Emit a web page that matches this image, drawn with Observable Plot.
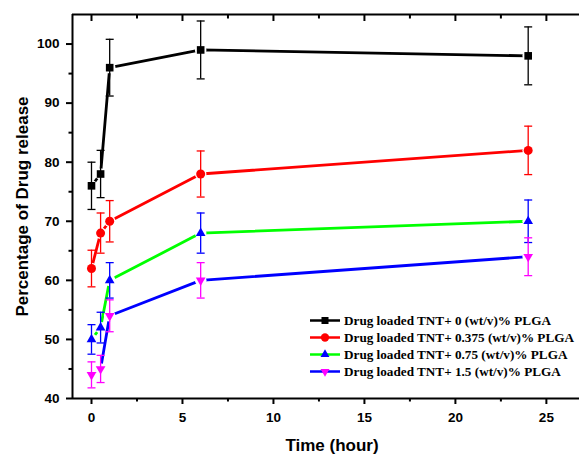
<!DOCTYPE html>
<html><head><meta charset="utf-8">
<script src="https://cdn.jsdelivr.net/npm/d3@7"></script>
<script src="https://cdn.jsdelivr.net/npm/@observablehq/plot@0.6"></script>
<style>
body{margin:0;background:#fff;}
#wrap{position:relative;width:579px;height:454px;overflow:hidden;}
#legend{position:absolute;left:309px;top:312px;font-family:"Liberation Serif","Times New Roman",serif;font-weight:bold;font-size:13.2px;color:#000;}
.row{height:17px;display:flex;align-items:center;white-space:nowrap;}
.row svg{flex:none;}
</style></head><body><div id="wrap"><div id="legend"></div></div>
<script>
// ---- data ----
const time = [0, 0.5, 1, 6, 24];
const seriesNames = [
  "Drug loaded TNT+ 0 (wt/v)% PLGA",
  "Drug loaded TNT+ 0.375 (wt/v)% PLGA",
  "Drug loaded TNT+ 0.75 (wt/v)% PLGA",
  "Drug loaded TNT+ 1.5 (wt/v)% PLGA"
];
const release0 = [76, 78, 96, 99, 98];
const error0 = [4, 4, 4.8, 4.9, 4.9];
const release0375 = [62, 68, 70, 78, 82];
const error0375 = [3.1, 3.4, 3.5, 3.9, 4.1];
const release075 = [50, 52, 60, 68, 70];
const error075 = [2.5, 2.6, 3, 3.4, 3.6];
const release15 = [44, 45, 54, 60, 64];
const error15 = [2.2, 2.3, 2.7, 3, 3.2];
const xTicks = [0, 5, 10, 15, 20, 25];
const xMinor = [2.5, 7.5, 12.5, 17.5, 22.5];
const yTicks = [40, 50, 60, 70, 80, 90, 100];
const yMinor = [45, 55, 65, 75, 85, 95];

// ---- styles ----
const lineColors = ["#000000", "#ff0000", "#00ff00", "#0000ff"];
const markerColors = ["#000000", "#ff0000", "#0000ff", "#ff00ff"];
const sqrt3 = Math.sqrt(3);
const triangleDown = {
  draw(context, size) {
    const y = Math.sqrt(size / (sqrt3 * 3));
    context.moveTo(0, y * 2);
    context.lineTo(-sqrt3 * y, -y);
    context.lineTo(sqrt3 * y, -y);
    context.closePath();
  }
};
const capSymbol = {
  draw(context) { context.moveTo(-4, 0); context.lineTo(4, 0); }
};
const symbols = ["square", "circle", "triangle", triangleDown];
const d3symbols = [d3.symbolSquare, d3.symbolCircle, d3.symbolTriangle, triangleDown];
const radii = [4.3, 4.5, 3.6, 3.6];

const values = [release0, release0375, release075, release15];
const errors = [error0, error0375, error075, error15];
const series = values.map((vals, s) => time.map((t, i) => ({t, v: vals[i], e: errors[s][i], s})));

const xDomain = [-1.044, 26.82];
const yDomain = [40, 105];

const marks = [];
series.forEach((rows, s) => {
  marks.push(Plot.line(rows, {x: "t", y: "v", stroke: lineColors[s], strokeWidth: 2.8}));
  marks.push(Plot.dot(rows, {x: "t", y: "v", r: 5.8, fill: "white", stroke: "none"}));
});
series.forEach((rows, s) => {
  marks.push(Plot.ruleX(rows, {x: "t", y1: d => d.v - d.e, y2: d => d.v + d.e, stroke: markerColors[s], strokeWidth: 1.3}));
  marks.push(Plot.dot(rows, {x: "t", y: d => d.v + d.e, symbol: capSymbol, fill: "none", stroke: markerColors[s], strokeWidth: 1.3}));
  marks.push(Plot.dot(rows, {x: "t", y: d => d.v - d.e, symbol: capSymbol, fill: "none", stroke: markerColors[s], strokeWidth: 1.3}));
  marks.push(Plot.dot(rows, {x: "t", y: "v", symbol: symbols[s], r: radii[s], fill: markerColors[s], stroke: "none"}));
});

const chart = Plot.plot({
  width: 579,
  height: 454,
  marginLeft: 72,
  marginRight: 0,
  marginTop: 14,
  marginBottom: 56,
  style: {fontFamily: "'Liberation Sans', Arial, sans-serif", fontSize: "13.5px", fontWeight: "bold", background: "white", color: "black"},
  x: {domain: xDomain, label: null},
  y: {domain: yDomain, label: null},
  marks: [
    ...marks,
    Plot.ruleY([yDomain[0]], {stroke: "black", strokeWidth: 2}),
    Plot.ruleY([yDomain[1]], {stroke: "black", strokeWidth: 2}),
    Plot.ruleX([xDomain[0]], {stroke: "black", strokeWidth: 2}),
    Plot.axisX(xTicks, {anchor: "bottom", tickSize: 6, tickPadding: 8, strokeWidth: 2, fontSize: 13.5, fontWeight: "bold", label: null}),
    Plot.axisX(xMinor, {anchor: "bottom", tickSize: 3.5, strokeWidth: 2, tickFormat: () => "", label: null}),
    Plot.axisX(xTicks, {anchor: "top", tickSize: -6, strokeWidth: 2, tickFormat: () => "", label: null}),
    Plot.axisX(xMinor, {anchor: "top", tickSize: -3.5, strokeWidth: 2, tickFormat: () => "", label: null}),
    Plot.axisY(yTicks, {anchor: "left", tickSize: 6, tickPadding: 7, strokeWidth: 2, fontSize: 13.5, fontWeight: "bold", label: null}),
    Plot.axisY(yMinor, {anchor: "left", tickSize: 3.5, strokeWidth: 2, tickFormat: () => "", label: null}),
    Plot.text(["Time (hour)"], {frameAnchor: "bottom", dy: 47, dx: 6, fontSize: 17, fontWeight: "bold", lineAnchor: "middle", textAnchor: "middle"}),
    Plot.text(["Percentage of Drug release"], {frameAnchor: "left", dx: -50, rotate: -90, fontSize: 17, fontWeight: "bold", lineAnchor: "middle", textAnchor: "middle"})
  ]
});
const wrap = document.getElementById("wrap");
wrap.insertBefore(chart, wrap.firstChild);

// ---- legend ----
const legend = d3.select("#legend");
seriesNames.forEach((name, s) => {
  const row = legend.append("div").attr("class", "row");
  const svg = row.append("svg").attr("width", 35).attr("height", 17);
  svg.append("line").attr("x1", 1).attr("x2", 31).attr("y1", 8.5).attr("y2", 8.5)
    .attr("stroke", lineColors[s]).attr("stroke-width", 2.5);
  svg.append("path").attr("transform", "translate(16,8.5)")
    .attr("d", d3.symbol().type(d3symbols[s]).size(Math.PI * radii[s] * radii[s] * 0.85)())
    .attr("fill", markerColors[s]);
  row.append("span").text(name);
});
</script>
</body></html>
